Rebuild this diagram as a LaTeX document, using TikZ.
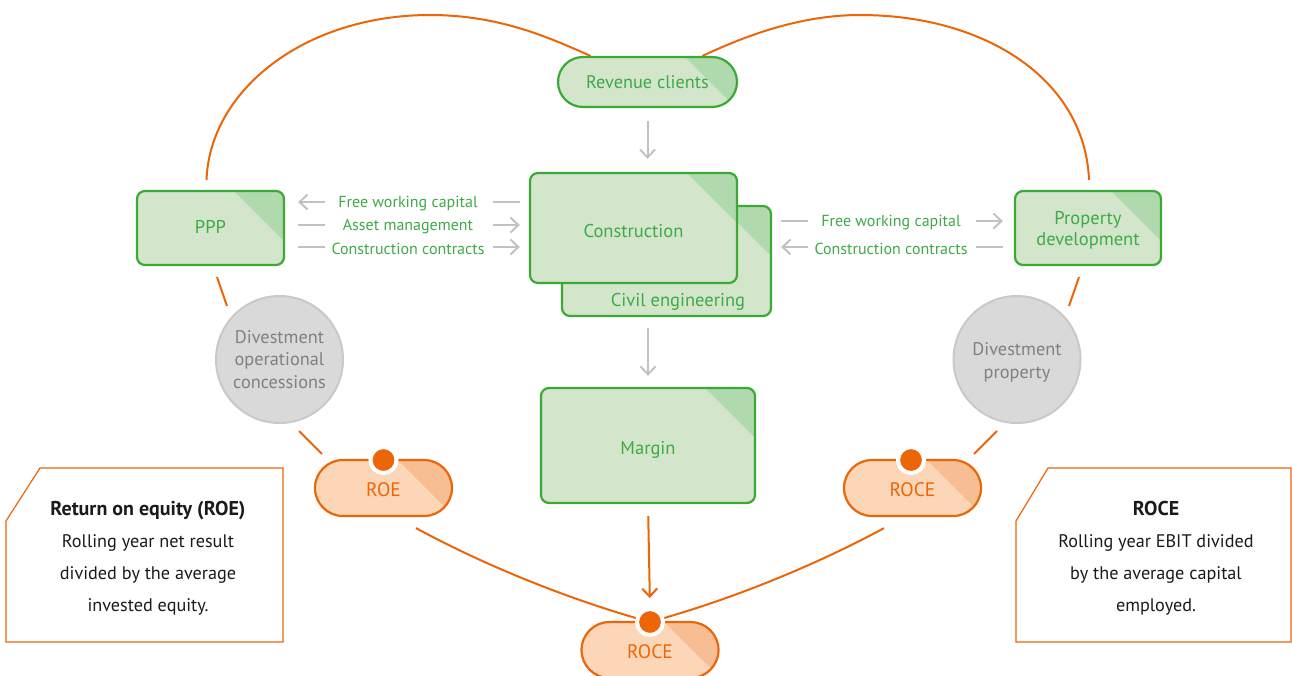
\documentclass[tikz,border=0pt]{standalone}
\usepackage{fontspec}
\setmainfont{PT Sans}
\usetikzlibrary{arrows.meta,calc}

\definecolor{gline}{HTML}{3AAA35}
\definecolor{gtext}{HTML}{3DAA47}
\definecolor{gfill}{HTML}{D3E6CB}
\definecolor{gcorner}{HTML}{B0D9AE}
\definecolor{oline}{HTML}{EC6608}
\definecolor{ofill}{HTML}{FCD6B7}
\definecolor{ocorner}{HTML}{F8BE93}
\definecolor{arrowgray}{HTML}{C2C2C2}
\definecolor{discfill}{HTML}{D9D9D9}
\definecolor{discline}{HTML}{C9C9C9}
\definecolor{disctext}{HTML}{808080}
\definecolor{bodytext}{HTML}{1A1A1A}

% move the glyphs down while keeping the box size used for centring
\newcommand\lowered[2]{\raisebox{-#1}[\height][\depth]{#2}}

\tikzset{
  corner/.style 2 args={path picture={
      \fill[#1, sharp corners] ([xshift=-#2]path picture bounding box.north east)
        -- ++(200pt,-200pt) -- ++(0pt,200pt) -- cycle;}},
  card/.style={draw=gline, fill=gfill, line width=2.2pt, rounded corners=8pt,
    text=gtext, font=\fontsize{18.5}{21}\selectfont, align=center, inner sep=0pt,
    corner={gcorner}{50pt}},
  gpill/.style={draw=gline, fill=gfill, line width=2.2pt, rounded corners=25pt,
    text=gtext, font=\fontsize{18.3}{21}\selectfont, inner sep=0pt,
    minimum width=179pt, minimum height=50pt, corner={gcorner}{52pt}},
  opill/.style={draw=oline, fill=ofill, line width=2.2pt, rounded corners=28pt,
    text=oline, font=\fontsize{19.5}{22}\selectfont, inner sep=0pt,
    minimum width=137pt, minimum height=56pt, corner={ocorner}{54pt}},
  odot/.style={circle, fill=oline, draw=white, line width=4pt,
    minimum size=26pt, inner sep=0pt},
  disc/.style={circle, fill=discfill, draw=discline, line width=2pt,
    minimum size=127pt, inner sep=0pt, text=disctext, align=center,
    font=\fontsize{18.3}{22.5}\selectfont},
  flowlabel/.style={text=gtext, font=\fontsize{16}{18}\selectfont, inner sep=0pt},
  gbar/.style={draw=arrowgray, line width=2pt,
    arrows={-Straight Barb[length=8pt,width=15pt]}},
  gstub/.style={draw=arrowgray, line width=2pt},
  orangeline/.style={draw=oline, line width=2pt},
  infobox/.style={draw=oline, line width=1.2pt},
  infotext/.style={text=bodytext, align=center, inner sep=0pt,
    font=\fontsize{18.2}{32}\selectfont},
}

\begin{document}
\begin{tikzpicture}[x=1pt,y=-1pt]
\useasboundingbox (0,0) rectangle (1292,675);

% boxes of the business streams
\node[card, minimum width=209pt, minimum height=110pt] (civ) at (666.5,261) {};
\node[card, minimum width=207pt, minimum height=110pt] (cons) at (633.5,228) {\lowered{3.5pt}{Construction}};
\node[text=gtext, font=\fontsize{18.5}{21}\selectfont, inner sep=0pt] (civlabel) at (678,302) {Civil engineering};
\node[card, minimum width=147pt, minimum height=74pt] (ppp) at (210.5,228) {\lowered{-1pt}{PPP}};
\node[card, minimum width=146pt, minimum height=74pt] (prop) at (1088,228)
  {\lowered{3pt}{\begin{tabular}{@{}c@{}}Property\\[0pt]development\end{tabular}}};
\node[card, minimum width=214pt, minimum height=115pt] (margin) at (648,445.5) {\lowered{4pt}{Margin}};

% divestment discs
\node[disc] (divl) at (279.5,359.5) {Divestment\\operational\\concessions};
\node[disc] (divr) at (1017,359.5) {\lowered{2.5pt}{\begin{tabular}{@{}c@{}}Divestment\\[0.5pt]property\end{tabular}}};

% short pieces of the orange cycle between the nodes
\coordinate (a1) at (217,277);
\coordinate (a2) at (227,306);
\coordinate (a3) at (299,431);
\coordinate (a4) at (322,454);
\coordinate (b1) at (1079,277);
\coordinate (b2) at (1069,306);
\coordinate (b3) at (997,431);
\coordinate (b4) at (974,454);
\draw[orangeline] (a1) -- (a2);
\draw[orangeline] (a3) -- (a4);
\draw[orangeline] (b1) -- (b2);
\draw[orangeline] (b3) -- (b4);

% pills
\node[gpill] (rev) at (647.5,82) {Revenue clients};
\node[opill] (roe) at (383.5,488) {\lowered{2pt}{ROE}};
\node[opill] (rocer) at (912.5,488) {\lowered{2pt}{ROCE}};
\node[opill] (roceb) at (650,650) {\lowered{2pt}{ROCE}};

% top arcs joining the streams through the clients
\draw[orangeline] ([xshift=-4pt,yshift=10pt]ppp.north)
  .. controls (210,89) and (306,15) .. (430,15)
  .. controls (500,15) and (550,38) .. ([xshift=-57pt]rev.north);
\draw[orangeline] ([xshift=55pt]rev.north)
  .. controls (745,36) and (800,15) .. (860,15)
  .. controls (986,15) and (1085,80) .. ([xshift=1pt,yshift=10pt]prop.north);

% lower curves into the group ROCE
\coordinate (bdotc) at (650,622);
\draw[orangeline] ([xshift=32.5pt,yshift=-11pt]roe.south)
  .. controls (486,566) and (570,600) .. (bdotc);
\draw[orangeline] ([xshift=-28.5pt,yshift=-11pt]rocer.south)
  .. controls (814,566) and (730,600) .. (bdotc);

% dots on the pills
\node[odot] (roedot) at (383.5,460) {};
\node[odot] (rocerdot) at (911,460) {};
\node[odot] (bdot) at (bdotc) {};

% vertical flows
\draw[gbar, shorten <=13pt, shorten >=13pt] (rev.south) -- (rev.south |- cons.north);
\draw[gbar, shorten <=11pt, shorten >=11pt] (margin.north |- civ.south) -- (margin.north);
\draw[orangeline, arrows={-Straight Barb[length=8pt,width=15pt]},
  shorten <=12pt, shorten >=9pt] (margin.south) -- (bdot.north);

% flows between PPP and Construction
\coordinate (r1) at (0,202);
\coordinate (r2) at (0,225);
\coordinate (r3) at (0,247);
\draw[gbar] ($(ppp.east|-r1)+(40,0)$) -- ++(-27,0);
\draw[gstub] ($(cons.west|-r1)+(-9,0)$) -- ++(-27,0);
\draw[gstub] ($(ppp.east|-r2)+(13,0)$) -- ++(27,0);
\draw[gbar] ($(cons.west|-r2)+(-36,0)$) -- ++(27,0);
\draw[gstub] ($(ppp.east|-r3)+(13,0)$) -- ++(27,0);
\draw[gbar] ($(cons.west|-r3)+(-36,0)$) -- ++(27,0);
\node[flowlabel] (fl1) at (408,203.5) {Free working capital};
\node[flowlabel] (fl2) at (408,226.5) {Asset management};
\node[flowlabel] (fl3) at (408,248.5) {Construction contracts};

% flows between Civil engineering and Property development
\coordinate (s1) at (0,221);
\coordinate (s2) at (0,247);
\draw[gstub] ($(civ.east|-s1)+(9,0)$) -- ++(27,0);
\draw[gbar] ($(prop.west|-s1)+(-38,0)$) -- ++(27,0);
\draw[gbar] ($(civ.east|-s2)+(36,0)$) -- ++(-27,0);
\draw[gstub] ($(prop.west|-s2)+(-11,0)$) -- ++(-27,0);
\node[flowlabel] (fr1) at (891,222.5) {Free working capital};
\node[flowlabel] (fr2) at (891,248.5) {Construction contracts};

% definition boxes
\draw[infobox] (40,468) -- (283,468) -- (283,642) -- (6,642) -- (6,521) -- cycle;
\draw[infobox] (1048,468) -- (1291,468) -- (1291,642) -- (1016,642) -- (1016,521) -- cycle;
\node[infotext] (roedef) at (148,558)
  {{\fontsize{20}{32}\selectfont\bfseries Return on equity (ROE)}\\Rolling year net result\\divided by the average\\invested equity.};
\node[infotext] (rocedef) at (1156,558)
  {{\fontsize{20}{32}\selectfont\bfseries ROCE}\\Rolling year EBIT divided\\by the average capital\\employed.};
\end{tikzpicture}
\end{document}
